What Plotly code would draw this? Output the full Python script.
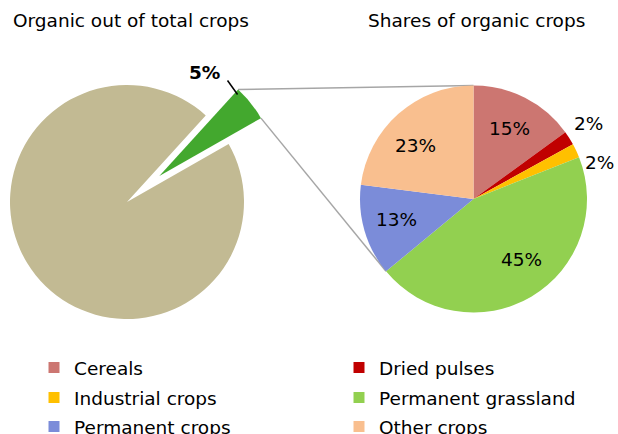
import math
import plotly.graph_objects as go

W, H = 618, 434

# ---------------- data ----------------
total_labels = ["Organic", "Non-organic"]
total_values = [5, 95]
total_colors = ["#43A82E", "#C2BA93"]

organic_labels = ["Cereals", "Dried pulses", "Industrial crops",
                  "Permanent grassland", "Permanent crops", "Other crops"]
organic_values = [15, 2, 2, 45, 13, 23]
organic_colors = ["#CC7671", "#C00000", "#FFC000", "#92D050", "#7B8CD9", "#F9BF8F"]

left_title = "Organic out of total crops"
right_title = "Shares of organic crops"

# ---------------- style / geometry ----------------
FONT = "Verdana, DejaVu Sans, sans-serif"
FS = 18.5
L_CX, L_CY, L_R = 127, 202, 117       # left pie centre/radius (px)
L_ROT = 42.3                           # start angle of the organic slice
PULL = 0.354                           # explode fraction of organic slice
R_CX, R_CY, R_R = 473.5, 199, 113.5    # right pie centre/radius (px)
CONNECT_INDEX = 4                      # connector meets pie before "Permanent crops"

# label placement (radius fraction, angle tweak) per right-pie slice
lab_rf = [0.70, 1.21, 1.16, 0.68, 0.705, 0.69]
lab_da = [0, -1, 9, -8, 1.7, -6]


def px_x(x):
    return x / W


def px_y(y):
    return 1 - y / H


def domain(cx, cy, r):
    return dict(x=[px_x(cx - r), px_x(cx + r)], y=[px_y(cy + r), px_y(cy - r)])


def polar(cx, cy, r, ang):
    a = math.radians(ang)
    return cx + r * math.sin(a), cy - r * math.cos(a)


tot = sum(total_values)
g_start = L_ROT
g_end = L_ROT + 360 * total_values[0] / tot
g_mid = (g_start + g_end) / 2
gcx, gcy = polar(L_CX, L_CY, PULL * L_R, g_mid)

fig = go.Figure()

# left pie: non-organic part (unpulled)
fig.add_trace(go.Pie(
    labels=total_labels, values=total_values, sort=False, direction="clockwise",
    rotation=L_ROT, domain=domain(L_CX, L_CY, L_R),
    marker=dict(colors=["rgba(0,0,0,0)", total_colors[1]], line=dict(width=0)),
    textinfo="none", hoverinfo="none", showlegend=False))
# left pie: organic part (pulled out)
fig.add_trace(go.Pie(
    labels=total_labels, values=total_values, sort=False, direction="clockwise",
    rotation=L_ROT, domain=domain(gcx, gcy, L_R),
    marker=dict(colors=[total_colors[0], "rgba(0,0,0,0)"], line=dict(width=0)),
    textinfo="none", hoverinfo="none", showlegend=False))

# right pie
fig.add_trace(go.Pie(
    labels=organic_labels, values=organic_values, sort=False, direction="clockwise",
    rotation=0, domain=domain(R_CX, R_CY, R_R),
    marker=dict(colors=organic_colors, line=dict(width=0)),
    textinfo="none", hoverinfo="none", showlegend=False))

# legend entries (three rows, two columns)
legend_names = ["legend", "legend2", "legend3"]
for i, (lab, col) in enumerate(zip(organic_labels, organic_colors)):
    fig.add_trace(go.Scatter(
        x=[None], y=[None], mode="markers", name=lab, hoverinfo="skip",
        marker=dict(symbol="square", size=11, color=col),
        legend=legend_names[i // 2], showlegend=True))

annotations = []
shapes = []

# titles
annotations.append(dict(text=left_title, x=px_x(11), y=px_y(21), xref="paper", yref="paper",
                        xanchor="left", yanchor="middle", showarrow=False,
                        font=dict(family=FONT, size=FS, color="#000")))
annotations.append(dict(text=right_title, x=px_x(366), y=px_y(21), xref="paper", yref="paper",
                        xanchor="left", yanchor="middle", showarrow=False,
                        font=dict(family=FONT, size=FS, color="#000")))

# right pie labels
rtot = sum(organic_values)
cum = 0
for v, rf, da in zip(organic_values, lab_rf, lab_da):
    mid = 360 * (cum + v / 2) / rtot
    cum += v
    x, y = polar(R_CX, R_CY, rf * R_R, mid + da)
    annotations.append(dict(text=f"{v}%", x=px_x(x), y=px_y(y), xref="paper", yref="paper",
                            xanchor="center", yanchor="middle", showarrow=False,
                            font=dict(family=FONT, size=FS, color="#000")))

# organic share label with leader line
c1 = polar(gcx, gcy, L_R, g_start)
c2 = polar(gcx, gcy, L_R, g_end)
lead_in = polar(gcx, gcy, L_R - 4, g_start + 1.5)
lead_out = (lead_in[0] - 10, lead_in[1] - 14)
annotations.append(dict(text=f"<b>{total_values[0]}%</b>", x=px_x(lead_out[0] - 6),
                        y=px_y(lead_out[1] - 8), xref="paper", yref="paper",
                        xanchor="right", yanchor="middle", showarrow=False,
                        font=dict(family=FONT, size=FS, color="#000")))
shapes.append(dict(type="line", xref="paper", yref="paper",
                   x0=px_x(lead_in[0]), y0=px_y(lead_in[1]),
                   x1=px_x(lead_out[0]), y1=px_y(lead_out[1]),
                   line=dict(color="#000", width=1.5)))

# connector lines to the right pie
t1 = polar(R_CX, R_CY, R_R, 0)
t2 = polar(R_CX, R_CY, R_R, 360 * sum(organic_values[:CONNECT_INDEX]) / rtot)
for (a, b) in [(c1, t1), (c2, t2)]:
    shapes.append(dict(type="line", xref="paper", yref="paper", layer="below",
                       x0=px_x(a[0]), y0=px_y(a[1]), x1=px_x(b[0]), y1=px_y(b[1]),
                       line=dict(color="#A6A6A6", width=1.5)))

leg_common = dict(orientation="h", xanchor="left", yanchor="middle",
                  entrywidth=260, entrywidthmode="pixels",
                  bgcolor="rgba(0,0,0,0)",
                  font=dict(family=FONT, size=FS, color="#000"),
                  itemclick=False, itemdoubleclick=False)
row_y = [368, 398, 427]
LEG_X = 34

fig.update_layout(
    width=W, height=H,
    margin=dict(l=0, r=0, t=0, b=0, autoexpand=False),
    paper_bgcolor="white", plot_bgcolor="white",
    hovermode=False,
    xaxis=dict(visible=False), yaxis=dict(visible=False),
    annotations=annotations, shapes=shapes,
    legend=dict(x=px_x(LEG_X), y=px_y(row_y[0]), **leg_common),
    legend2=dict(x=px_x(LEG_X), y=px_y(row_y[1]), **leg_common),
    legend3=dict(x=px_x(LEG_X), y=px_y(row_y[2]), **leg_common),
    font=dict(family=FONT),
)

fig.write_html("out.html", config={"displayModeBar": False},
               post_script="document.body.style.margin='0px';document.body.style.overflow='hidden';")
